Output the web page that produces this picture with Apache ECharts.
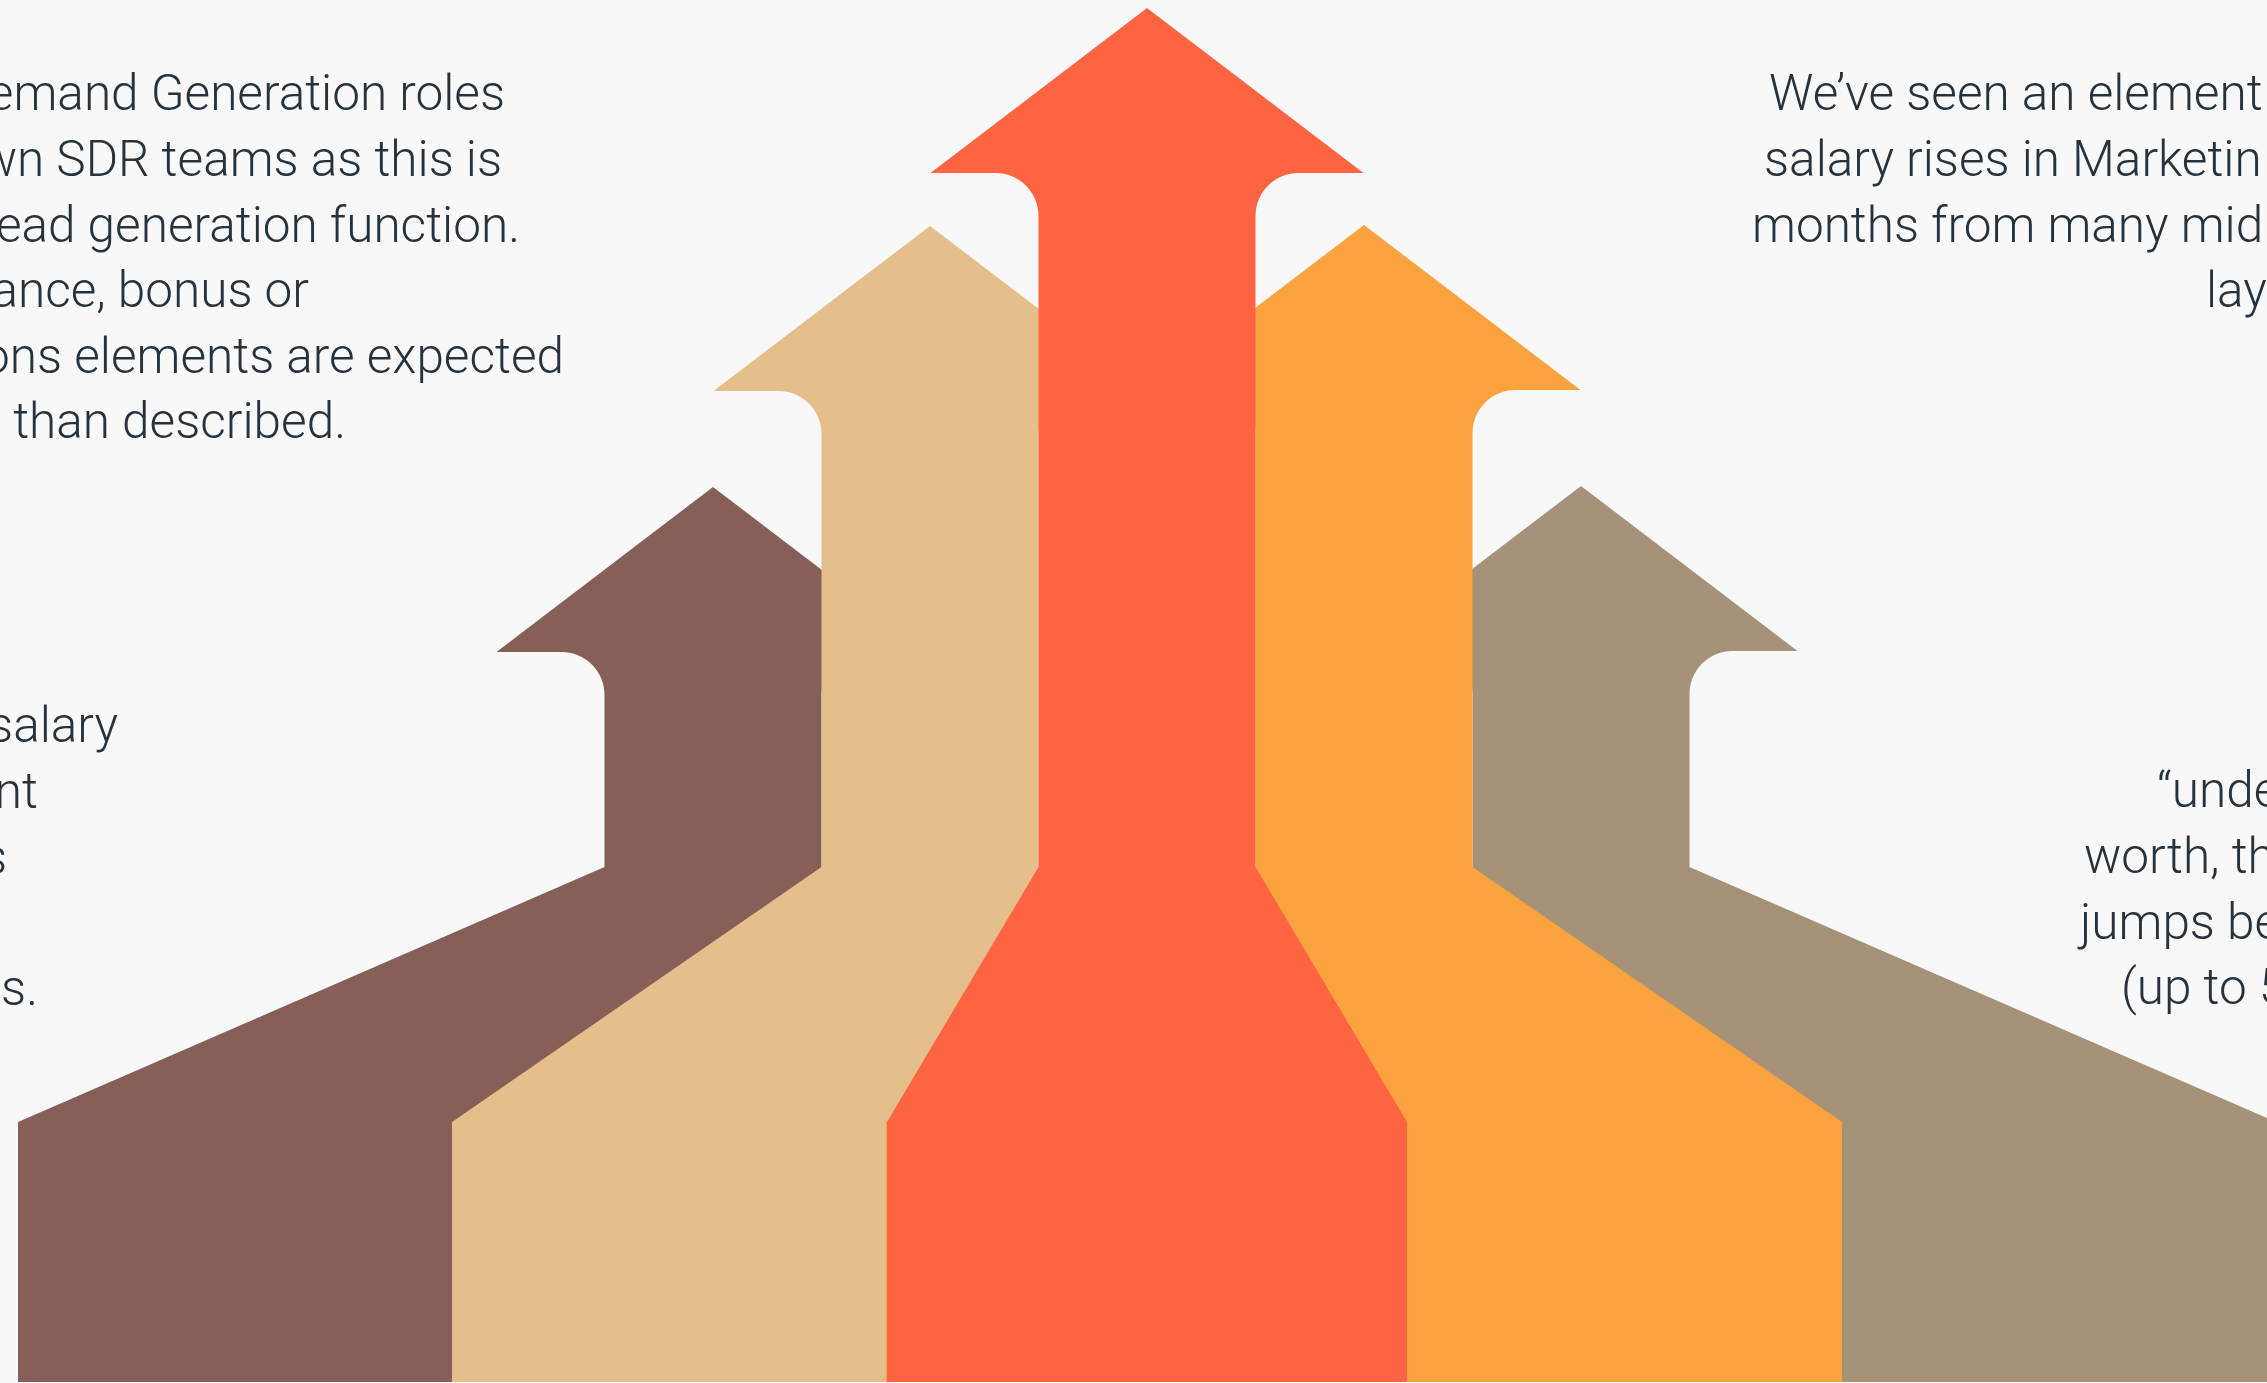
<!DOCTYPE html>
<html>
<head>
<meta charset="utf-8">
<script src="https://cdn.jsdelivr.net/npm/echarts@6/dist/echarts.min.js"></script>
<style>
  html, body { margin: 0; padding: 0; background: #f8f8f8; }
  #chart { width: 2267px; height: 1383px; }
</style>
</head>
<body>
<div id="chart"></div>
<script>
// arrows, left to right
const arrowNames = ['brown', 'tan', 'red', 'orange', 'taupe']
const arrowCenterX = [713, 930, 1147, 1364, 1581]
const arrowTipY = [487, 226, 8, 225, 486]
const arrowBaseHalf = [695, 478, 260, 478, 695]   // half width at the foot
const arrowLayer = [0, 1, 2, 1, 0]                 // higher is drawn on top

// text lines, cropped by the picture edge
const leftTopLines = ['emand Generation roles', 'wn SDR teams as this is', 'ead generation function.', 'ance, bonus or', 'ons elements are expected', ' than described.']
const leftTopEnds = [505, 502, 520, 309, 564, 346]
const leftBottomLines = ['salary', 'nt', 's', '', 'es.']
const leftBottomEnds = [118, 38, 7, 0, 38]
const rightTopLines = ['We’ve seen an element', 'salary rises in Marketin', 'months from many mid', 'lay']
const rightTopStarts = [1769, 1764, 1752, 2206]
const rightBottomLines = ['“unde', 'worth, th', 'jumps be', '(up to 5']
const rightBottomStarts = [2157, 2084, 2080, 2121]

const colors = ['#865f59', '#e5be8c', '#ff6442', '#faa23d', '#a59279']

// shape constants
const HEAD_DEPTH = 165
const HEAD_HALF = 216.5
const SHAFT_HALF = 108.5
const CORNER_R = 43
const FLARE_TOP = 867
const FLARE_BOTTOM = 1122
const FOOT_Y = 1382

const W = 2267, H = 1383
const FONT = 'Roboto, "Open Sans", sans-serif'
const FONT_SIZE = 49.5
const TEXT_COLOR = '#26323c'

const chart = echarts.init(document.getElementById('chart'), null, { renderer: 'canvas' })

// draw order by layer
const order = arrowNames.map((n, i) => i).sort((a, b) => arrowLayer[a] - arrowLayer[b])
const arrowData = order.map(i => ({ name: arrowNames[i], value: [arrowCenterX[i], arrowTipY[i], arrowBaseHalf[i], i] }))

function renderArrow(params, api) {
  const cx = api.value(0), tip = api.value(1), half = api.value(2), idx = api.value(3)
  const barbY = tip + HEAD_DEPTH
  const pts = []
  pts.push([cx - half, FOOT_Y])
  pts.push([cx - half, FLARE_BOTTOM])
  pts.push([cx - SHAFT_HALF, FLARE_TOP])
  // left inner corner
  const lcx = cx - SHAFT_HALF - CORNER_R, lcy = barbY + CORNER_R
  for (let k = 0; k <= 16; k++) {
    const t = (k / 16) * Math.PI / 2
    pts.push([lcx + CORNER_R * Math.cos(t), lcy - CORNER_R * Math.sin(t)])
  }
  pts.push([cx - HEAD_HALF, barbY])
  pts.push([cx, tip])
  pts.push([cx + HEAD_HALF, barbY])
  // right inner corner
  const rcx = cx + SHAFT_HALF + CORNER_R
  for (let k = 16; k >= 0; k--) {
    const t = (k / 16) * Math.PI / 2
    pts.push([rcx - CORNER_R * Math.cos(t), lcy - CORNER_R * Math.sin(t)])
  }
  pts.push([cx + SHAFT_HALF, FLARE_TOP])
  pts.push([cx + half, FLARE_BOTTOM])
  pts.push([cx + half, FOOT_Y])
  return {
    type: 'polygon',
    shape: { points: pts.map(p => api.coord(p)) },
    style: { fill: colors[idx] }
  }
}

function textBlock(lines, xs, firstBaseline, align) {
  return lines.map((t, i) => ({
    type: 'text',
    silent: true,
    style: {
      text: t,
      x: xs[i],
      y: firstBaseline + i * 65.6,
      textAlign: align,
      textVerticalAlign: 'bottom',
      font: '300 ' + FONT_SIZE + 'px ' + FONT,
      fill: TEXT_COLOR
    }
  }))
}

// baseline offset: bottom of em box sits a bit below the baseline
const DESC = 15

chart.setOption({
  backgroundColor: '#f8f8f8',
  animation: false,
  grid: { left: 0, right: 0, top: 0, bottom: 0 },
  xAxis: { type: 'value', min: 0, max: W, show: false },
  yAxis: { type: 'value', min: 0, max: H, inverse: true, show: false },
  series: [{
    type: 'custom',
    renderItem: renderArrow,
    clip: false,
    silent: true,
    data: arrowData
  }],
  graphic: [].concat(
    textBlock(leftTopLines, leftTopEnds, 108 + DESC, 'right'),
    textBlock(leftBottomLines, leftBottomEnds, 740 + DESC, 'right'),
    textBlock(rightTopLines, rightTopStarts, 108 + DESC, 'left'),
    textBlock(rightBottomLines, rightBottomStarts, 805 + DESC, 'left')
  )
})

window.addEventListener('resize', () => chart.resize())
</script>
</body>
</html>
